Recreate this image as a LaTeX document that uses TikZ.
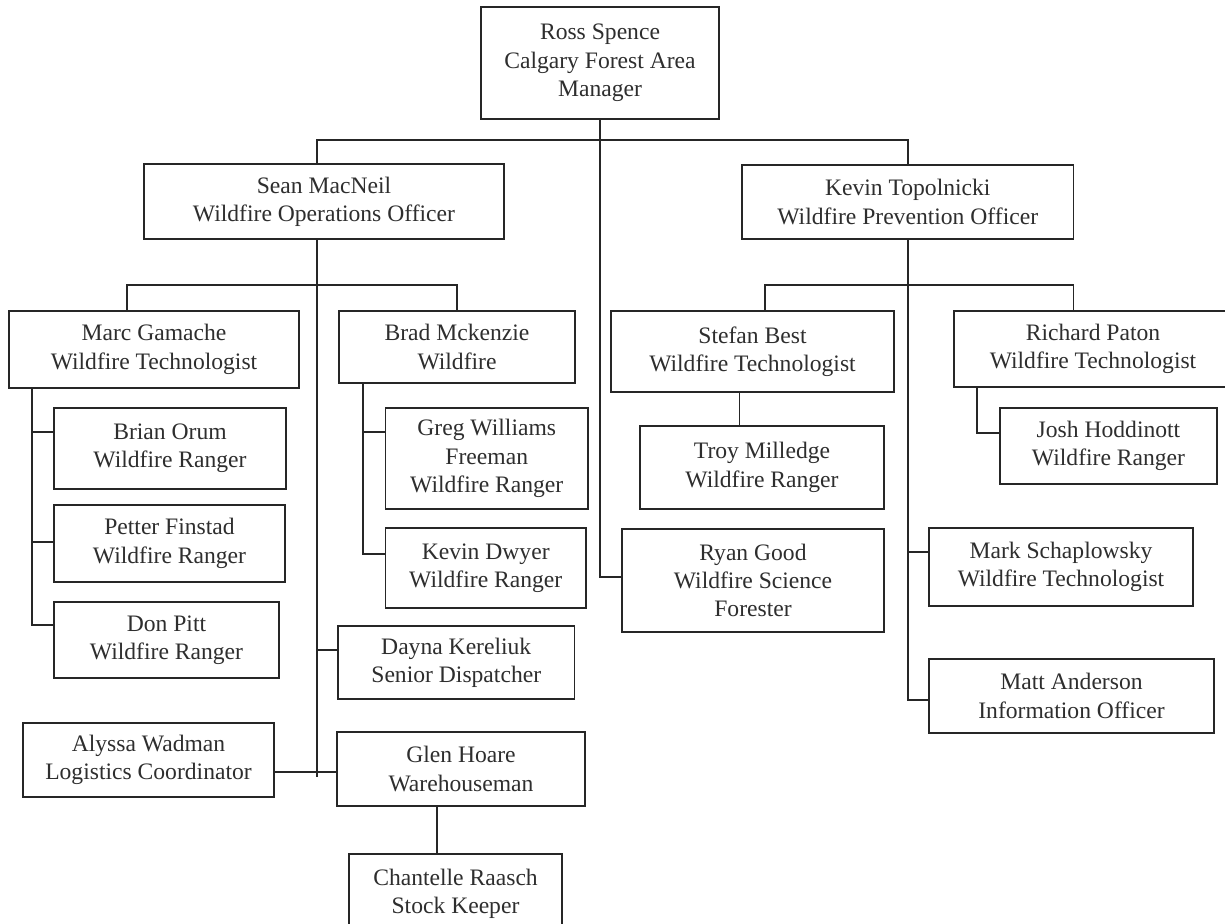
\documentclass[tikz,border=0pt]{standalone}
\usepackage{fontspec}
\setmainfont{Liberation Serif}
\definecolor{linec}{HTML}{262626}
\definecolor{textc}{HTML}{2E2E2E}
\begin{document}
\begin{tikzpicture}[x=1pt,y=-1pt,
  orgbox/.style={draw=linec, line width=1.6pt, inner sep=0pt, align=center, text=textc, font=\fontsize{23.6}{28.3}\selectfont},
  conn/.style={draw=linec, line width=1.6pt}]
\fill[white] (0,0) rectangle (1225,923);
\useasboundingbox (0,0) rectangle (1225,923);
\clip (0,0) rectangle (1225,923);

% boxes
\node[orgbox, minimum width=238pt, minimum height=112pt] (ross) at (600,63) {Ross Spence\\Calgary Forest Area\\Manager};
\node[orgbox, minimum width=360pt, minimum height=75pt] (sean) at (324,201.5) {Sean MacNeil\\Wildfire Operations Officer};
\node[orgbox, minimum width=331.5pt, minimum height=74pt] (kevint) at (907.75,202) {Kevin Topolnicki\\Wildfire Prevention Officer};
\node[orgbox, minimum width=290pt, minimum height=77pt] (marc) at (154,349.5) {Marc Gamache\\Wildfire Technologist};
\node[orgbox, minimum width=236pt, minimum height=72pt] (brad) at (457,347) {Brad Mckenzie\\Wildfire};
\node[orgbox, minimum width=283pt, minimum height=81pt] (stefan) at (752.5,351.5) {Stefan Best\\Wildfire Technologist};
\node[orgbox, minimum width=278pt, minimum height=76pt] (richard) at (1093,349) {Richard Paton\\Wildfire Technologist};
\node[orgbox, minimum width=232pt, minimum height=81pt] (brian) at (170,448.5) {Brian Orum\\Wildfire Ranger};
\node[orgbox, minimum width=231pt, minimum height=77pt] (petter) at (169.5,543.5) {Petter Finstad\\Wildfire Ranger};
\node[orgbox, minimum width=225pt, minimum height=76pt] (don) at (166.5,640) {Don Pitt\\Wildfire Ranger};
\node[orgbox, minimum width=202.5pt, minimum height=101pt] (greg) at (486.75,458.5) {Greg Williams\\Freeman\\Wildfire Ranger};
\node[orgbox, minimum width=200.5pt, minimum height=80pt] (kdwyer) at (485.75,568) {Kevin Dwyer\\Wildfire Ranger};
\node[orgbox, minimum width=244pt, minimum height=83pt] (troy) at (762,467.5) {Troy Milledge\\Wildfire Ranger};
\node[orgbox, minimum width=262pt, minimum height=103pt] (ryan) at (753,580.5) {Ryan Good\\Wildfire Science\\Forester};
\node[orgbox, minimum width=217pt, minimum height=76pt] (josh) at (1108.5,446) {Josh Hoddinott\\Wildfire Ranger};
\node[orgbox, minimum width=264pt, minimum height=78pt] (mark) at (1061,567) {Mark Schaplowsky\\Wildfire Technologist};
\node[orgbox, minimum width=285pt, minimum height=74pt] (matt) at (1071.5,696) {Matt Anderson\\Information Officer};
\node[orgbox, minimum width=236.5pt, minimum height=73pt] (dayna) at (456.25,662.5) {Dayna Kereliuk\\Senior Dispatcher};
\node[orgbox, minimum width=248pt, minimum height=74pt] (glen) at (461,769) {Glen Hoare\\Warehouseman};
\node[orgbox, minimum width=251pt, minimum height=74pt] (alyssa) at (148.5,760) {Alyssa Wadman\\Logistics Coordinator};
\node[orgbox, minimum width=213pt, minimum height=79pt] (chantelle) at (455.5,893.5) {Chantelle Raasch\\Stock Keeper};

% top level
\draw[conn] (ross.south) |- ([yshift=3.5pt]ryan.west);
\coordinate (sb) at ([xshift=-7pt]sean.north);
\draw[conn] (sb) -- ++(0,-23) -| (kevint.north);

% Sean MacNeil
\coordinate (st) at ([xshift=-7pt]sean.south);
\draw[conn] (st) -- ++(0,537);
\coordinate (mb) at ([xshift=-27pt]marc.north);
\draw[conn] (mb) -- ++(0,-25) -| (brad.north);
\coordinate (dj) at ([yshift=12.5pt]dayna.west);
\draw[conn] (st |- dj) -- (dj);
\coordinate (gj) at ([yshift=-3pt]glen.west);
\draw[conn] (alyssa.east |- gj) -- (gj);

% Marc Gamache
\coordinate (mt) at ([xshift=-122pt]marc.south);
\coordinate (bj) at ([yshift=16.5pt]brian.west);
\coordinate (pj) at ([yshift=1.5pt]petter.west);
\coordinate (dpj) at ([yshift=15pt]don.west);
\draw[conn] (mt) |- (dpj);
\draw[conn] (mt |- bj) -- (bj);
\draw[conn] (mt |- pj) -- (pj);

% Brad Mckenzie
\coordinate (bt) at ([xshift=-94pt]brad.south);
\coordinate (gwj) at ([yshift=26.5pt]greg.west);
\coordinate (kdj) at ([yshift=14pt]kdwyer.west);
\draw[conn] (bt) |- (kdj);
\draw[conn] (bt |- gwj) -- (gwj);

% Glen Hoare
\draw[conn] ([xshift=-24pt]glen.south) -- ([xshift=-18.5pt]chantelle.north);

% Kevin Topolnicki
\draw[conn] (kevint.south) |- ([yshift=-4pt]matt.west);
\coordinate (sbj) at ([xshift=12.5pt]stefan.north);
\draw[conn] (sbj) -- ++(0,-25) -| ([xshift=-19.5pt]richard.north);
\coordinate (msj) at ([yshift=15pt]mark.west);
\draw[conn] (kevint.south |- msj) -- (msj);

% Stefan Best
\draw[conn] ([xshift=-13pt]stefan.south) -- ([xshift=-22.5pt]troy.north);

% Richard Paton
\draw[conn] ([xshift=-116pt]richard.south) |- ([yshift=13pt]josh.west);
\end{tikzpicture}
\end{document}
